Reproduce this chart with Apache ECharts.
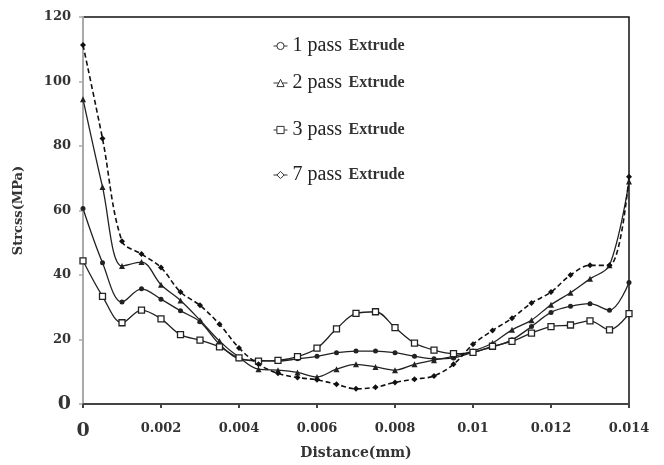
<!DOCTYPE html>
<html>
<head>
<meta charset="utf-8">
<script src="https://cdn.jsdelivr.net/npm/echarts@6/dist/echarts.min.js"></script>
<style>
  html, body { margin: 0; padding: 0; background: #fff; }
  #main { width: 664px; height: 465px; }
</style>
</head>
<body>
<div id="main"></div>
<script>
  // distance (mm), one point every 0.0005
  var distance = [0, 0.0005, 0.001, 0.0015, 0.002, 0.0025, 0.003, 0.0035, 0.004, 0.0045,
    0.005, 0.0055, 0.006, 0.0065, 0.007, 0.0075, 0.008, 0.0085, 0.009, 0.0095,
    0.01, 0.0105, 0.011, 0.0115, 0.012, 0.0125, 0.013, 0.0135, 0.014];

  var pass1 = [60.6, 43.8, 31.6, 35.7, 32.5, 28.9, 25.5, 18.5, 14, 13.5,
    13.3, 14.0, 14.8, 15.9, 16.4, 16.4, 15.9, 14.8, 14.0, 14.3,
    16, 17.7, 19.9, 24, 28.4, 30.3, 31.1, 29.1, 37.7];
  var pass2 = [94.5, 67.3, 42.8, 44, 37, 32.1, 26, 19.5, 14.5, 10.8,
    10.5, 9.8, 8.4, 10.8, 12.3, 11.5, 10.5, 12.3, 13.6, 14.8,
    16.4, 18.9, 23, 26, 30.8, 34.5, 38.8, 43, 69];
  var pass3 = [44.4, 33.4, 25.2, 29.1, 26.4, 21.5, 19.8, 17.7, 14.3, 13.3,
    13.5, 14.7, 17.3, 23.3, 28.1, 28.6, 23.7, 18.9, 16.7, 15.6,
    16.0, 17.9, 19.4, 22, 24, 24.5, 25.8, 23, 28];
  var pass7 = [111.3, 82.3, 50.5, 46.5, 42.3, 34.7, 30.6, 24.7, 17.4, 12.3,
    9.5, 8.2, 7.5, 6.1, 4.7, 5.2, 6.7, 7.7, 8.7, 12.3,
    18.5, 22.8, 26.6, 31.3, 34.7, 40, 43, 43, 70.5];

  var names = ['1 pass', '2 pass', '3 pass', '7 pass'];
  var legendTops = [31, 68, 115, 160];

  function pairs(ys) {
    return distance.map(function (x, i) { return [x, ys[i]]; });
  }

  var myChart = echarts.init(document.getElementById('main'));

  var labelFont = { fontFamily: 'DejaVu Serif', fontWeight: 'bold', fontSize: 13, color: '#333' };
  var zeroRich = { z: { fontFamily: 'DejaVu Serif', fontWeight: 'bold', fontSize: 19, color: '#333' } };

  var legends = names.map(function (n, i) {
    return {
      data: [n],
      left: 268,
      top: legendTops[i],
      itemWidth: 14,
      itemHeight: 9,
      itemStyle: { color: '#fff', borderColor: '#333', borderWidth: 1 },
      lineStyle: { color: '#333', width: 1, type: 'solid' },
      formatter: function (name) { return '{a|' + name + '}  {b|Extrude}'; },
      textStyle: {
        rich: {
          a: { fontFamily: 'Liberation Serif', fontSize: 20, color: '#222' },
          b: { fontFamily: 'Liberation Serif', fontWeight: 'bold', fontSize: 16, color: '#333' }
        }
      }
    };
  });

  var lineCommon = { color: '#222', width: 1.3 };

  var option = {
    animation: false,
    backgroundColor: '#fff',
    grid: { left: 83, right: 35, top: 17, bottom: 55, show: true, borderColor: '#111', borderWidth: 1.5 },
    legend: legends,
    xAxis: {
      type: 'value', min: 0, max: 0.014, interval: 0.002,
      name: 'Distance(mm)', nameLocation: 'middle', nameGap: 42,
      nameTextStyle: { fontFamily: 'DejaVu Serif', fontWeight: 'bold', fontSize: 14, color: '#333' },
      axisLine: { lineStyle: { color: '#444', width: 2 } },
      axisTick: { show: true, length: 4, lineStyle: { color: '#444', width: 2 } },
      splitLine: { show: false },
      axisLabel: Object.assign({ margin: 18, rich: zeroRich, formatter: function (v) {
        return v === 0 ? '{z|0}' : String(+v.toFixed(3));
      } }, labelFont)
    },
    yAxis: {
      type: 'value', min: 0, max: 120, interval: 20,
      name: 'Strcss(MPa)', nameLocation: 'middle', nameGap: 58,
      nameTextStyle: { fontFamily: 'DejaVu Serif', fontWeight: 'bold', fontSize: 13, color: '#333' },
      axisLine: { show: true, lineStyle: { color: '#aaa', width: 2 } },
      axisTick: { show: true, length: 4, lineStyle: { color: '#aaa', width: 1.5 } },
      splitLine: { show: false },
      axisLabel: Object.assign({ margin: 12, rich: zeroRich, formatter: function (v) {
        return v === 0 ? '{z|0}' : String(v);
      } }, labelFont)
    },
    series: [
      { name: '1 pass', type: 'line', data: pairs(pass1), smooth: 0.35, symbol: 'circle', symbolSize: 5,
        itemStyle: { color: '#222' }, lineStyle: lineCommon },
      { name: '2 pass', type: 'line', data: pairs(pass2), smooth: 0.35, symbol: 'triangle', symbolSize: 6,
        itemStyle: { color: '#222' }, lineStyle: lineCommon },
      { name: '3 pass', type: 'line', data: pairs(pass3), smooth: 0.35, symbol: 'rect', symbolSize: 6,
        itemStyle: { color: '#fff', borderColor: '#222', borderWidth: 1.3 }, lineStyle: lineCommon },
      { name: '7 pass', type: 'line', data: pairs(pass7), smooth: 0.35, symbol: 'diamond', symbolSize: 6,
        itemStyle: { color: '#111' }, lineStyle: { color: '#111', width: 1.6, type: [5, 3] } }
    ]
  };

  myChart.setOption(option);
</script>
</body>
</html>
